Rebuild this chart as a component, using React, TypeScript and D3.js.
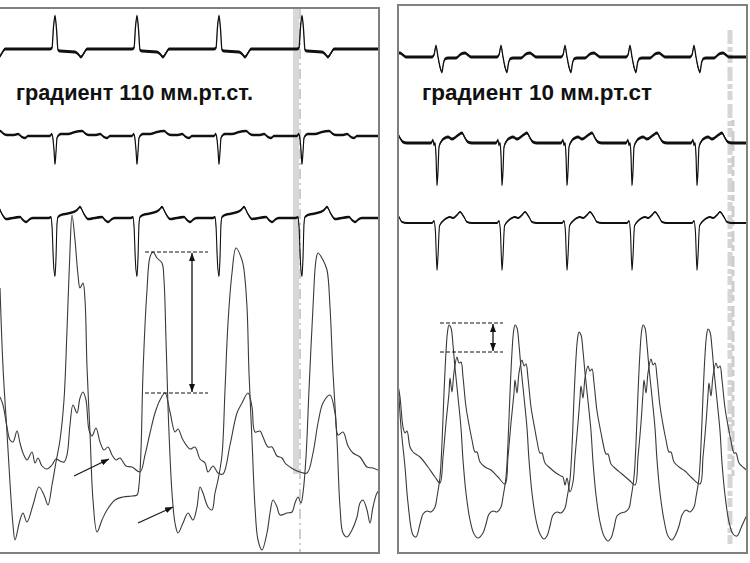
import React from 'react';
import * as d3 from 'd3';

const W = 750;
const H = 563;

// ---------- LEFT PANEL DATA (time units, amplitude units) ----------
const leftTitle = 'градиент 110 мм.рт.ст.';
const rightTitle = 'градиент 10 мм.рт.ст';

// ECG beat times (left panel)
const leftBeats1 = [-27, 55, 137, 219, 302];
const leftBeats23 = [-27, 55, 137, 219, 302];
// ECG complexes: [time offset, amplitude]
const leftEcg1: [number, number][] = [[-5, 0], [-3, 1], [-1.5, 22], [0, 33], [1.5, 20], [3, -1], [5, -2], [20, -3], [23, -5], [26, -8], [29, -4], [32, 0]];
const leftEcg2: [number, number][] = [[-5, 0], [-3.5, 2], [-2.5, 0], [-1, -14], [0, -28], [1, -16], [2, -2], [3, 0], [6, 2], [13, 2], [20, 4], [27, 5], [31, 2], [34, 1], [41, 1], [45, 2], [49, -1], [52, -2], [55, 0]];
const leftEcg3: [number, number][] = [[-6, 0], [-4, 1], [-3, -8], [-1.5, -45], [0, -58], [1, -40], [2, -6], [3, 1], [6, 3], [15, 5], [22, 8], [25, 11], [29, 4], [33, -1], [40, 0], [47, 1], [50, -2], [53, -4], [57, -1], [60, 0]];

// Left ventricular pressure (left panel)
const leftLV: [number, number][] = [
  [0, 265], [3, 186], [7, 120], [10, 70], [13, 28], [15, 13], [20, 33], [23, 40], [27, 31], [33, 48], [39, 66], [44, 58], [48, 48], [52, 68], [56, 91], [60, 113], [64, 153], [67, 223], [70, 303], [72, 338], [75, 313], [78, 278], [80, 265], [83, 270], [85, 253], [87, 186], [90, 120], [93, 53], [97, 21], [102, 33], [107, 43], [115, 53], [123, 56], [132, 57], [137, 58], [139, 68], [141, 103], [143, 180], [147, 263], [150, 296], [153, 301], [157, 295], [162, 290], [164, 273], [166, 213], [168, 146], [172, 60], [175, 30], [178, 20], [183, 30], [188, 40], [193, 33], [197, 46], [200, 66], [203, 60], [208, 46], [212, 43], [215, 60], [218, 73], [222, 98], [225, 163], [228, 230], [232, 280], [236, 305], [242, 293], [244, 283], [247, 246], [249, 180], [252, 113], [255, 46], [258, 13], [262, 3], [267, 20], [270, 40], [273, 53], [277, 46], [280, 38], [287, 40], [292, 41], [295, 50], [298, 56], [301, 50], [303, 60], [306, 96], [309, 163], [313, 246], [316, 293], [318, 300], [323, 293], [327, 283], [330, 246], [333, 180], [337, 113], [340, 46], [343, 20], [347, 16], [352, 23], [357, 36], [360, 50], [363, 53], [367, 43], [370, 30], [373, 46], [377, 60], [380, 63]
];
// Aortic pressure (left panel)
const leftAo: [number, number][] = [
  [0, 156], [3, 148], [7, 126], [10, 113], [13, 111], [17, 122], [20, 110], [23, 100], [27, 93], [32, 101], [35, 90], [38, 95], [42, 87], [47, 84], [52, 88], [56, 94], [60, 92], [64, 91], [67, 98], [70, 128], [73, 148], [77, 140], [80, 155], [83, 161], [86, 153], [89, 123], [92, 117], [96, 125], [100, 111], [104, 103], [108, 106], [112, 98], [116, 93], [120, 95], [126, 87], [132, 86], [140, 81], [145, 98], [150, 120], [155, 140], [160, 153], [165, 160], [170, 141], [175, 121], [178, 124], [183, 113], [190, 104], [195, 106], [200, 94], [205, 90], [208, 81], [213, 87], [218, 80], [223, 79], [230, 108], [237, 140], [242, 150], [248, 160], [252, 146], [255, 121], [260, 122], [263, 116], [268, 106], [272, 106], [277, 97], [282, 95], [285, 90], [290, 86], [295, 83], [300, 81], [307, 80], [313, 100], [318, 130], [323, 150], [330, 158], [335, 140], [338, 118], [343, 121], [348, 107], [353, 100], [360, 96], [367, 86], [373, 85], [380, 82]
];

// ---------- RIGHT PANEL DATA ----------
const rightBeats1 = [-27, 38, 103, 167, 232, 296];
const rightBeats23 = [-26, 39, 104, 169, 234, 299];
const rightEcg1: [number, number][] = [[-4, 0], [-2, 2], [0, 11], [2, 0], [4, -10], [6, -15], [7.5, -6], [9, -2], [12, -1], [20, -1], [25, 3], [29, 4], [32, 2], [35, 0]];
const rightEcg2: [number, number][] = [[-6, 0], [-4, 3], [-3, -2], [-2, 0], [-1, -12], [0, -42], [1, -28], [2, -4], [4, 1], [8, 5], [11, 6], [15, 4], [20, 7], [25, 10], [28, 5], [31, 1], [35, 0]];
const rightEcg3: [number, number][] = [[-5, 0], [-3, 2], [-1.5, -10], [0, -47], [1, -33], [2.5, -3], [6, 2], [10, 5], [13, 6], [16, 5], [20, 8], [23, 11], [27, 6], [30, 1], [35, 0]];

const rightLV: [number, number][] = [
  [0, 173], [3, 126], [7, 86], [10, 50], [15, 18], [18, 16], [22, 29], [25, 39], [29, 42], [33, 41], [37, 46], [39, 56], [42, 76], [44, 110], [46, 160], [48, 201], [49.5, 221], [51, 228], [53, 225], [55, 208], [57, 185], [60, 156], [63, 125], [65, 93], [68, 60], [72, 33], [76, 19], [80, 15],
  [85, 20], [88, 29], [91, 39], [95, 42], [99, 41], [103, 46], [105, 56], [108, 76], [110, 110], [112, 160], [114, 201], [115.5, 221], [117, 228], [119, 225], [121, 208], [123, 185], [126, 156], [129, 125], [131, 93], [134, 60], [138, 33], [142, 19], [146, 14],
  [149, 17], [152, 27], [155, 38], [159, 41], [163, 40], [167, 45], [169, 55], [172, 74], [174, 106], [176, 155], [178, 195], [179.5, 214], [181, 221], [183, 218], [185, 202], [187, 180], [190, 152], [193, 122], [195, 91], [198, 58], [202, 31], [206, 17], [210, 12],
  [213, 15], [216, 25], [219, 37], [223, 40], [227, 41], [231, 45], [233, 55], [236, 76], [238, 110], [240, 160], [242, 201], [243.5, 221], [245, 228], [247, 225], [249, 208], [251, 185], [254, 156], [257, 125], [259, 93], [262, 60], [266, 33], [270, 17], [274, 13],
  [277, 17], [281, 27], [284, 38], [288, 43], [292, 41], [296, 46], [298, 56], [301, 75], [303, 108], [305, 157], [307, 198], [308.5, 217], [310, 224], [312, 221], [314, 205], [316, 182], [319, 153], [322, 122], [324, 90], [327, 58], [331, 31], [335, 19], [339, 17], [343, 25], [347, 34], [350, 40]
];
const rightAo: [number, number][] = [
  [0, 168], [2, 156], [5, 126], [7, 120], [9, 122], [12, 106], [15, 101], [22, 96], [30, 86], [37, 76], [42, 70],
  [45, 96], [48, 130], [51, 160], [52, 175], [54, 161], [56, 181], [59, 196], [61, 190], [63, 191], [65, 176], [68, 146], [72, 123], [74, 113], [77, 101], [79, 101], [82, 91], [87, 86], [93, 83], [100, 76], [107, 69],
  [110, 96], [113, 130], [116, 160], [117, 173], [119, 160], [121, 180], [124, 193], [126, 187], [128, 189], [130, 175], [133, 146], [137, 123], [139, 112], [142, 100], [144, 100], [147, 90], [152, 85], [158, 80], [163, 77], [165, 76], [167, 68], [169, 75], [172, 61], [175, 71],
  [177, 96], [180, 130], [182, 155], [183, 167], [185, 155], [187, 175], [190, 187], [192, 182], [194, 184], [196, 170], [199, 142], [203, 120], [205, 110], [208, 99], [210, 99], [213, 89], [218, 84], [224, 79], [231, 73], [237, 68],
  [240, 96], [243, 130], [245, 160], [246, 173], [248, 160], [250, 180], [253, 194], [255, 188], [257, 190], [259, 176], [262, 147], [266, 123], [268, 113], [271, 101], [273, 101], [276, 91], [281, 86], [287, 82], [294, 75], [302, 69],
  [305, 96], [308, 130], [310, 158], [311, 170], [313, 157], [315, 177], [318, 190], [320, 185], [322, 187], [324, 173], [327, 145], [331, 122], [333, 112], [336, 100], [338, 100], [341, 90], [346, 85], [350, 82]
];

// Annotation values: [t start, t end, upper amplitude, lower amplitude, arrow t]
const leftGradient = [145, 208, 301, 160, 192];
const rightGradient = [42, 105, 230, 201, 95];
const leftPointers: [number, number, number, number][] = [[74, 77, 109, 94], [138, 30, 173, 46]];

type Pt = [number, number];

function buildTrace(beats: number[], complex: Pt[], t0: number, t1: number): Pt[] {
  const pts: Pt[] = [[t0 - 40, 0]];
  beats.forEach(b => complex.forEach(([dt, v]) => pts.push([b + dt, v])));
  pts.push([t1 + 40, 0]);
  return pts.sort((a, b) => a[0] - b[0]);
}

const ink = '#111';
const pressureInk = '#3a3a3a';

function EcgTrace({ pts, xs, base, hw, lw }: { pts: Pt[]; xs: d3.ScaleLinear<number, number>; base: number; hw: number; lw: number }) {
  const ys = d3.scaleLinear().domain([-60, 40]).range([base + 60, base - 40]);
  const area = d3.area<Pt>().x(d => xs(d[0])).y0(d => ys(d[1]) + hw).y1(d => ys(d[1]) - hw).curve(d3.curveMonotoneX);
  const line = d3.line<Pt>().x(d => xs(d[0])).y(d => ys(d[1])).curve(d3.curveMonotoneX);
  return (
    <g>
      <path d={area(pts) || ''} fill={ink} />
      <path d={line(pts) || ''} fill="none" stroke={ink} strokeWidth={lw} />
    </g>
  );
}

function Panel(props: {
  id: string; x0: number; x1: number; y0: number; y1: number; tMax: number;
  beats1: number[]; beats23: number[]; c1: Pt[]; c2: Pt[]; c3: Pt[];
  bases: number[]; hws: number[]; lv: Pt[]; ao: Pt[]; grad: number[];
  pointers: [number, number, number, number][]; title: string; titleX: number; titleLen: number;
}) {
  const { id, x0, x1, y0, y1, tMax } = props;
  const xs = d3.scaleLinear().domain([0, tMax]).range([x0, x1]);
  const ps = d3.scaleLinear().domain([0, 545]).range([553, 8]);
  const pLine = d3.line<Pt>().x(d => xs(d[0])).y(d => ps(d[1])).curve(d3.curveCatmullRom.alpha(0.5));
  const t1 = buildTrace(props.beats1, props.c1, 0, tMax);
  const t2 = buildTrace(props.beats23, props.c2, 0, tMax);
  const t3 = buildTrace(props.beats23, props.c3, 0, tMax);
  const [gs, ge, gu, gl, ga] = props.grad;
  return (
    <g>
      <defs>
        <clipPath id={id}>
          <rect x={x0} y={y0} width={x1 - x0} height={y1 - y0} />
        </clipPath>
      </defs>
      <g clipPath={`url(#${id})`}>
        <path d={pLine(props.lv) || ''} fill="none" stroke={pressureInk} strokeWidth={1.1} />
        <path d={pLine(props.ao) || ''} fill="none" stroke={pressureInk} strokeWidth={1.1} />
        <EcgTrace pts={t1} xs={xs} base={props.bases[0]} hw={props.hws[0]} lw={1.3} />
        <EcgTrace pts={t2} xs={xs} base={props.bases[1]} hw={props.hws[1]} lw={1.2} />
        <EcgTrace pts={t3} xs={xs} base={props.bases[2]} hw={props.hws[2]} lw={1.1} />
        <line x1={xs(gs)} x2={xs(ge)} y1={ps(gu)} y2={ps(gu)} stroke={ink} strokeWidth={1} strokeDasharray="4 2" />
        <line x1={xs(gs)} x2={xs(ge)} y1={ps(gl)} y2={ps(gl)} stroke={ink} strokeWidth={1} strokeDasharray="4 2" />
        <line x1={xs(ga)} x2={xs(ga)} y1={ps(gu) + 1} y2={ps(gl) - 1} stroke={ink} strokeWidth={1.3} markerStart="url(#ah)" markerEnd="url(#ah)" />
        {props.pointers.map((p, i) => (
          <line key={i} x1={xs(p[0])} y1={ps(p[1])} x2={xs(p[2])} y2={ps(p[3])} stroke={ink} strokeWidth={1.1} markerEnd="url(#ah)" />
        ))}
      </g>
      <text x={props.titleX} y={100} fontFamily="'Liberation Sans', Arial, sans-serif" fontWeight="bold" fontSize={22}
        textLength={props.titleLen} lengthAdjust="spacingAndGlyphs" fill={ink}>{props.title}</text>
    </g>
  );
}

export default function App() {
  return (
    <svg width={W} height={H} viewBox={`0 0 ${W} ${H}`} style={{ position: 'absolute', left: 0, top: 0, background: '#fff' }}>
      <defs>
        <marker id="ah" viewBox="0 0 8 6" refX={8} refY={3} markerWidth={8} markerHeight={6} markerUnits="userSpaceOnUse" orient="auto-start-reverse">
          <path d="M0,0 L8,3 L0,6 Z" fill={ink} />
        </marker>
      </defs>
      <rect x={0} y={0} width={W} height={H} fill="#fff" />
      {/* left recording artifact */}
      <rect x={293} y={9} width={6} height={465} fill="#d8d8d8" />
      <line x1={300} x2={300} y1={9} y2={553} stroke="#9a9a9a" strokeWidth={1} strokeDasharray="10 4 2 4" />
      {/* right recording artifact */}
      <line x1={730} x2={730} y1={30} y2={545} stroke="#d6d6d6" strokeWidth={5} strokeDasharray="14 3 5 2 9 4" />
      <line x1={733} x2={733} y1={120} y2={480} stroke="#cdcdcd" strokeWidth={3} strokeDasharray="6 5 11 3" />
      <Panel id="clipL" x0={0} x1={379} y0={9} y1={552} tMax={379}
        beats1={leftBeats1} beats23={leftBeats23} c1={leftEcg1} c2={leftEcg2} c3={leftEcg3}
        bases={[49, 136, 218]} hws={[1.6, 1.3, 1.3]} lv={leftLV} ao={leftAo} grad={leftGradient}
        pointers={leftPointers} title={leftTitle} titleX={16} titleLen={237} />
      <Panel id="clipR" x0={398} x1={748} y0={6} y1={552} tMax={350}
        beats1={rightBeats1} beats23={rightBeats23} c1={rightEcg1} c2={rightEcg2} c3={rightEcg3}
        bases={[57, 143, 223]} hws={[1.5, 1.4, 1.0]} lv={rightLV} ao={rightAo} grad={rightGradient}
        pointers={[]} title={rightTitle} titleX={422} titleLen={230} />
      {/* panel frames */}
      <path d="M0,8 H379 V553 H0" fill="none" stroke="#808080" strokeWidth={2} />
      <rect x={398} y={5} width={349} height={548} fill="none" stroke="#808080" strokeWidth={2} />
    </svg>
  );
}
